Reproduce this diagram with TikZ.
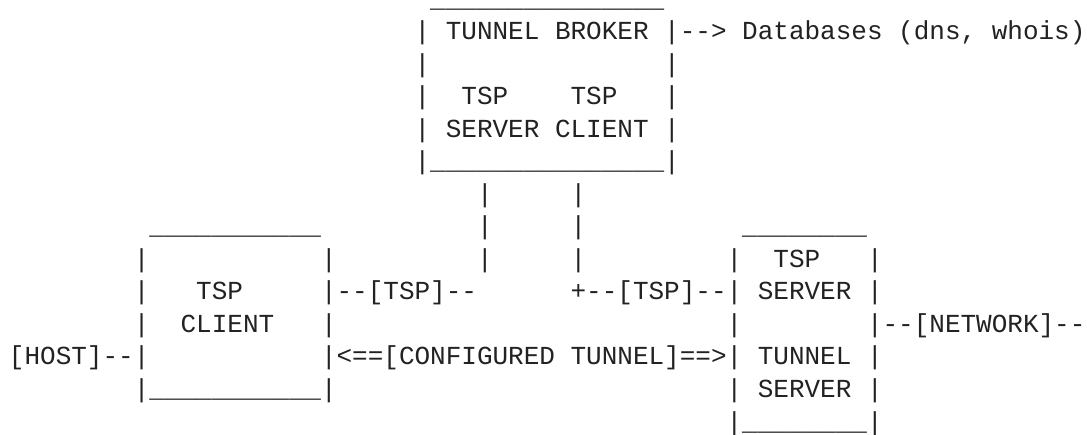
\documentclass[tikz,border=0pt]{standalone}
\usepackage{fontspec}
\setmonofont{Liberation Mono}
\usetikzlibrary{positioning}
\definecolor{ink}{HTML}{222222}
% one character cell of the grid: 15.6pt wide, 32.5pt per text line
\newcommand\cellx[1]{9pt+#1*15.6pt}
\newcommand\celly[1]{-7.5pt-#1*32.5pt}
% \gridtext[options]{name}{column}{line}{text}
\newcommand\gridtext[5][]{\node[glyphs,#1] (#2) at ({\cellx{#3}},{\celly{#4}}) {#5};}
\begin{document}
\begin{tikzpicture}[
  glyphs/.style={anchor=base west, inner sep=0pt, outer sep=0pt,
    font=\ttfamily\fontsize{26}{32.5}\selectfont, text=ink},
  rule/.style={text height=1pt}]
\useasboundingbox[fill=white] (0,0) rectangle (1087pt,-435pt);

% tunnel broker box
\gridtext[rule]{tbtop}{27}{0}{\_\_\_\_\_\_\_\_\_\_\_\_\_\_\_}
\gridtext{tbl1}{26}{1}{|}
\gridtext{tbname}{28}{1}{TUNNEL BROKER}
\gridtext{tbr1}{42}{1}{|-->}
\gridtext{db}{47}{1}{Databases (dns, whois)}
\gridtext{tbl2}{26}{2}{|}
\gridtext{tbr2}{42}{2}{|}
\gridtext{tbl3}{26}{3}{|}
\gridtext{tspa}{29}{3}{TSP}
\gridtext{tspb}{36}{3}{TSP}
\gridtext{tbr3}{42}{3}{|}
\gridtext{tbl4}{26}{4}{|}
\gridtext{srva}{28}{4}{SERVER}
\gridtext{clia}{35}{4}{CLIENT}
\gridtext{tbr4}{42}{4}{|}
\gridtext{tbbot}{26}{5}{|\_\_\_\_\_\_\_\_\_\_\_\_\_\_\_|}

% links down from the broker
\gridtext{va6}{30}{6}{|}
\gridtext{vb6}{36}{6}{|}
\gridtext{va7}{30}{7}{|}
\gridtext{vb7}{36}{7}{|}
\gridtext{va8}{30}{8}{|}
\gridtext{vb8}{36}{8}{|}

% client box
\gridtext[rule]{ctop}{9}{7}{\_\_\_\_\_\_\_\_\_\_\_}
\gridtext{cl8}{8}{8}{|}
\gridtext{cr8}{20}{8}{|}
\gridtext{cl9}{8}{9}{|}
\gridtext{ctsp}{12}{9}{TSP}
\gridtext{clink}{20}{9}{|--[TSP]--}
\gridtext{cl10}{8}{10}{|}
\gridtext{ccli}{11}{10}{CLIENT}
\gridtext{cr10}{20}{10}{|}
\gridtext{host}{0}{11}{[HOST]--|}
\gridtext{tunnel}{20}{11}{|<==[CONFIGURED TUNNEL]==>|}
\gridtext{cbot}{8}{12}{|\_\_\_\_\_\_\_\_\_\_\_|}

% server box
\gridtext[rule]{stop}{47}{7}{\_\_\_\_\_\_\_\_}
\gridtext{sl8}{46}{8}{|}
\gridtext{stsp}{49}{8}{TSP}
\gridtext{sr8}{55}{8}{|}
\gridtext{slink}{36}{9}{+--[TSP]--|}
\gridtext{ssrv}{48}{9}{SERVER}
\gridtext{sr9}{55}{9}{|}
\gridtext{sl10}{46}{10}{|}
\gridtext{net}{55}{10}{|--[NETWORK]--}
\gridtext{stun}{48}{11}{TUNNEL}
\gridtext{sr11}{55}{11}{|}
\gridtext{sl12}{46}{12}{|}
\gridtext{ssrv2}{48}{12}{SERVER}
\gridtext{sr12}{55}{12}{|}
\gridtext{sbot}{46}{13}{|\_\_\_\_\_\_\_\_|}
\end{tikzpicture}
\end{document}
